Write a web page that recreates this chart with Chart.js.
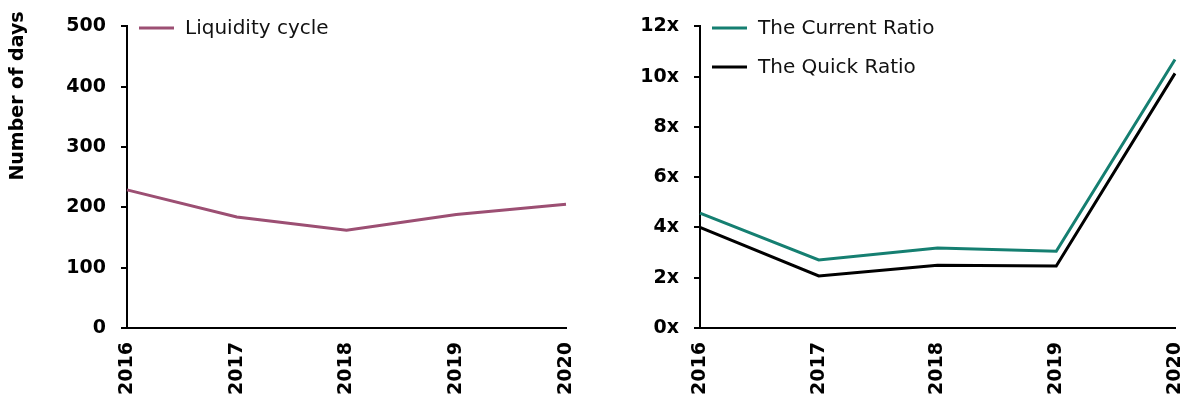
<!DOCTYPE html>
<html>
<head>
<meta charset="utf-8">
<script src="https://cdn.jsdelivr.net/npm/chart.js@4/dist/chart.umd.min.js"></script>
<style>
  html, body { margin: 0; padding: 0; background: #fff; }
  #wrap { position: relative; width: 1190px; height: 397px; }
  .box { position: absolute; top: 0; height: 397px; }
  #b1 { left: 0; width: 595px; }
  #b2 { left: 595px; width: 595px; }
</style>
</head>
<body>
<div id="wrap">
  <div class="box" id="b1"><canvas id="c1"></canvas></div>
  <div class="box" id="b2"><canvas id="c2"></canvas></div>
</div>
<script>
const years = ['2016', '2017', '2018', '2019', '2020'];
const liquidityCycle = [229, 184, 162, 188, 205];
const currentRatio = [4.57, 2.71, 3.18, 3.05, 10.68];
const quickRatio = [4.0, 2.07, 2.5, 2.47, 10.13];
const leftTicks = [0, 100, 200, 300, 400, 500];
const rightTicks = [0, 2, 4, 6, 8, 10, 12];
const leftTitle = 'Number of days';
const ratioSuffix = 'x';

const FONT = "'DejaVu Sans', sans-serif";

const legendPlugin = {
  id: 'inlegend',
  afterDraw(chart, args, opts) {
    const ctx = chart.ctx;
    const x0 = chart.chartArea.left + opts.dx;
    let y = opts.y0;
    ctx.save();
    chart.data.datasets.forEach(ds => {
      ctx.strokeStyle = ds.borderColor;
      ctx.lineWidth = 3;
      ctx.beginPath();
      ctx.moveTo(x0, y);
      ctx.lineTo(x0 + 35, y);
      ctx.stroke();
      ctx.fillStyle = '#111';
      ctx.font = '20px ' + FONT;
      ctx.textBaseline = 'middle';
      ctx.textAlign = 'left';
      ctx.fillText(ds.label, x0 + 46, y + 1);
      y += opts.step;
    });
    ctx.restore();
  }
};

const titlePlugin = {
  id: 'ytitle',
  afterDraw(chart, args, opts) {
    if (!opts.text) return;
    const ctx = chart.ctx;
    ctx.save();
    ctx.translate(opts.x, opts.y);
    ctx.rotate(-Math.PI / 2);
    ctx.fillStyle = '#000';
    ctx.font = 'bold 19px ' + FONT;
    ctx.textAlign = 'center';
    ctx.textBaseline = 'middle';
    ctx.fillText(opts.text, 0, 0);
    ctx.restore();
  }
};

function makeChart(id, datasets, ticks, yWidth, padRight, title, suffix) {
  return new Chart(document.getElementById(id), {
    type: 'line',
    data: { labels: years, datasets },
    plugins: [legendPlugin, titlePlugin],
    options: {
      responsive: true,
      maintainAspectRatio: false,
      animation: false,
      layout: { padding: { top: 25, right: padRight, bottom: 0, left: 0 } },
      elements: { point: { radius: 0 }, line: { borderWidth: 3, tension: 0 } },
      plugins: {
        legend: { display: false },
        tooltip: { enabled: false },
        inlegend: { dx: 12, y0: 28, step: 39 },
        ytitle: { text: title, x: 18, y: 96 }
      },
      scales: {
        x: {
          offset: false,
          grid: { display: false },
          border: { display: true, color: '#000', width: 2 },
          ticks: {
            color: '#000', maxRotation: 90, minRotation: 90, padding: 6,
            font: { family: FONT, size: 19, weight: 'bold' }
          },
          afterFit(s) { s.height = 69; s.paddingLeft = 0; s.paddingRight = 0; }
        },
        y: {
          min: ticks[0], max: ticks[ticks.length - 1],
          afterBuildTicks(s) { s.ticks = ticks.map(v => ({ value: v })); },
          grid: { drawOnChartArea: false, drawTicks: true, tickLength: 6, color: '#000', lineWidth: 2 },
          border: { display: true, color: '#000', width: 2 },
          ticks: {
            color: '#000', padding: 15,
            font: { family: FONT, size: 19, weight: 'bold' },
            callback: v => v + suffix
          },
          afterFit(s) { s.width = yWidth; }
        }
      }
    }
  });
}

makeChart('c1', [
  { label: 'Liquidity cycle', data: liquidityCycle, borderColor: '#9C4F73', backgroundColor: '#9C4F73' }
], leftTicks, 127, 29, leftTitle, '');

makeChart('c2', [
  { label: 'The Current Ratio', data: currentRatio, borderColor: '#157F71', backgroundColor: '#157F71' },
  { label: 'The Quick Ratio', data: quickRatio, borderColor: '#000000', backgroundColor: '#000000' }
], rightTicks, 105, 15, null, ratioSuffix);
</script>
</body>
</html>
